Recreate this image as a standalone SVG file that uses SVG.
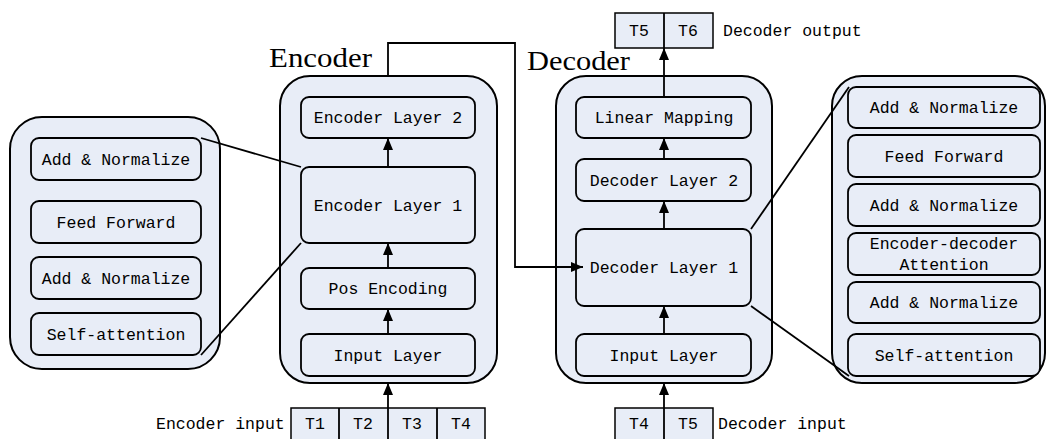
<svg xmlns="http://www.w3.org/2000/svg" width="1048" height="439" viewBox="0 0 1048 439">
<defs>
<style>
.panel{fill:#e8edf7;stroke:#000;stroke-width:2}
.box{fill:#e8edf7;stroke:#000;stroke-width:1.8}
.tok{fill:#e8edf7;stroke:#000;stroke-width:1.5}
.t{font-family:"Liberation Mono",monospace;font-size:16.5px;fill:#000;text-anchor:middle}
.l{font-family:"Liberation Mono",monospace;font-size:16.5px;fill:#000}
.title{font-family:"Liberation Serif",serif;font-size:28px;fill:#000}
.c{fill:none;stroke:#000;stroke-width:1.8}
</style>
<marker id="ah" viewBox="0 0 12 10" refX="12" refY="5" markerWidth="12" markerHeight="10" markerUnits="userSpaceOnUse" orient="auto">
<path d="M0,0 L12,5 L0,10 Z" fill="#000"/>
</marker>
</defs>

<g id="encoder-detail">
<rect class="panel" x="10" y="117" width="210" height="252" rx="32"/>
<g id="enc-add-norm-1"><rect class="box" x="31" y="138" width="170" height="42" rx="8"/><text class="t" x="116" y="165">Add &amp; Normalize</text></g>
<g id="enc-feed-forward"><rect class="box" x="31" y="201" width="170" height="42" rx="8"/><text class="t" x="116" y="228">Feed Forward</text></g>
<g id="enc-add-norm-2"><rect class="box" x="31" y="257" width="170" height="42" rx="8"/><text class="t" x="116" y="284">Add &amp; Normalize</text></g>
<g id="enc-self-attention"><rect class="box" x="31" y="313" width="170" height="42" rx="8"/><text class="t" x="116" y="340">Self-attention</text></g>
</g>

<g id="encoder">
<text class="title" x="269" y="67" textLength="103" lengthAdjust="spacingAndGlyphs">Encoder</text>
<rect class="panel" x="280" y="76" width="217" height="307" rx="30"/>
<g id="enc-layer-2"><rect class="box" x="301" y="97" width="174" height="41" rx="8"/><text class="t" x="388" y="123">Encoder Layer 2</text></g>
<g id="enc-layer-1"><rect class="box" x="301" y="167" width="174" height="76" rx="8"/><text class="t" x="388" y="211">Encoder Layer 1</text></g>
<g id="pos-encoding"><rect class="box" x="301" y="268" width="174" height="41" rx="8"/><text class="t" x="388" y="294">Pos Encoding</text></g>
<g id="enc-input-layer"><rect class="box" x="301" y="334" width="174" height="42" rx="8"/><text class="t" x="388" y="361">Input Layer</text></g>
</g>

<g id="encoder-input">
<text class="l" x="156" y="429">Encoder input</text>
<rect class="tok" x="291" y="408" width="194" height="40"/>
<line class="c" x1="339" y1="408" x2="339" y2="439" stroke-width="1.5"/>
<line class="c" x1="437" y1="408" x2="437" y2="439" stroke-width="1.5"/>
<text class="t" x="315" y="429">T1</text>
<text class="t" x="363" y="429">T2</text>
<text class="t" x="412" y="429">T3</text>
<text class="t" x="461" y="429">T4</text>
</g>

<g id="decoder">
<text class="title" x="527" y="70" textLength="103" lengthAdjust="spacingAndGlyphs">Decoder</text>
<rect class="panel" x="556" y="76" width="216" height="307" rx="30"/>
<g id="linear-mapping"><rect class="box" x="576" y="97" width="175" height="41" rx="8"/><text class="t" x="664" y="123">Linear Mapping</text></g>
<g id="dec-layer-2"><rect class="box" x="576" y="159" width="175" height="42" rx="8"/><text class="t" x="664" y="186">Decoder Layer 2</text></g>
<g id="dec-layer-1"><rect class="box" x="576" y="229" width="175" height="77" rx="8"/><text class="t" x="664" y="273">Decoder Layer 1</text></g>
<g id="dec-input-layer"><rect class="box" x="576" y="334" width="175" height="42" rx="8"/><text class="t" x="664" y="361">Input Layer</text></g>
</g>

<g id="decoder-output">
<rect class="tok" x="615" y="13" width="98" height="35"/>
<text class="t" x="639" y="36">T5</text>
<text class="t" x="688" y="36">T6</text>
<text class="l" x="723" y="36">Decoder output</text>
</g>

<g id="decoder-input">
<rect class="tok" x="615" y="408" width="98" height="40"/>
<text class="t" x="639" y="429">T4</text>
<text class="t" x="688" y="429">T5</text>
<text class="l" x="718" y="429">Decoder input</text>
</g>

<g id="decoder-detail">
<rect class="panel" x="832" y="76" width="213" height="307" rx="30"/>
<g id="dec-add-norm-1"><rect class="box" x="848" y="87" width="192" height="41" rx="8"/><text class="t" x="944" y="113">Add &amp; Normalize</text></g>
<g id="dec-feed-forward"><rect class="box" x="848" y="135" width="192" height="42" rx="8"/><text class="t" x="944" y="162">Feed Forward</text></g>
<g id="dec-add-norm-2"><rect class="box" x="848" y="184" width="192" height="42" rx="8"/><text class="t" x="944" y="211">Add &amp; Normalize</text></g>
<g id="enc-dec-attention"><rect class="box" x="848" y="233" width="192" height="42" rx="8"/><text class="t" x="944" y="249">Encoder-decoder</text><text class="t" x="944" y="270">Attention</text></g>
<g id="dec-add-norm-3"><rect class="box" x="848" y="282" width="192" height="41" rx="8"/><text class="t" x="944" y="308">Add &amp; Normalize</text></g>
<g id="dec-self-attention"><rect class="box" x="848" y="334" width="192" height="42" rx="8"/><text class="t" x="944" y="361">Self-attention</text></g>
</g>

<g id="connectors">
<line class="c" x1="201" y1="138" x2="301" y2="167"/>
<line class="c" x1="201" y1="355" x2="301" y2="243"/>
<line class="c" x1="388" y1="167" x2="388" y2="138" marker-end="url(#ah)"/>
<line class="c" x1="388" y1="268" x2="388" y2="243" marker-end="url(#ah)"/>
<line class="c" x1="388" y1="334" x2="388" y2="309" marker-end="url(#ah)"/>
<line class="c" x1="388" y1="439" x2="388" y2="383" marker-end="url(#ah)"/>
<polyline class="c" points="388,76 388,43 515,43 515,267 583,267" marker-end="url(#ah)"/>
<line class="c" x1="664" y1="439" x2="664" y2="383" marker-end="url(#ah)"/>
<line class="c" x1="664" y1="334" x2="664" y2="306" marker-end="url(#ah)"/>
<line class="c" x1="664" y1="229" x2="664" y2="201" marker-end="url(#ah)"/>
<line class="c" x1="664" y1="159" x2="664" y2="138" marker-end="url(#ah)"/>
<line class="c" x1="664" y1="97" x2="664" y2="48" marker-end="url(#ah)"/>
<line class="c" x1="664" y1="48" x2="664" y2="13" stroke-width="1.5"/>
<line class="c" x1="751" y1="229" x2="849" y2="87"/>
<line class="c" x1="751" y1="306" x2="849" y2="376"/>
</g>
</svg>
